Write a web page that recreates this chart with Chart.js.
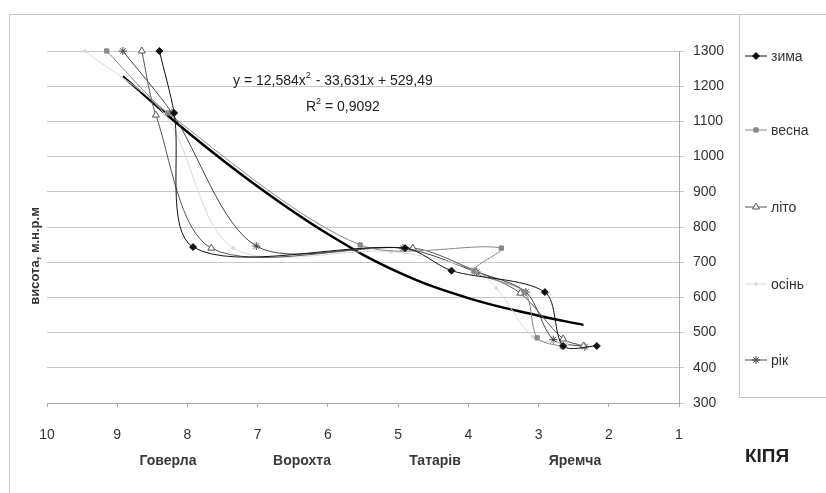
<!DOCTYPE html>
<html>
<head>
<meta charset="utf-8">
<script src="https://cdn.jsdelivr.net/npm/chart.js@4/dist/chart.umd.min.js"></script>
<style>
  html, body { margin: 0; padding: 0; background: #fff; }
  #wrap { position: relative; width: 826px; height: 493px; }
  .frame { position: absolute; border-color: #c8c8c8; border-style: solid; border-width: 0; }
</style>
</head>
<body>
<div id="wrap">
  <div class="frame" style="left:9px;top:14px;width:817px;height:479px;border-left-width:1px;border-top-width:1px;"></div>
  <div class="frame" style="left:739px;top:14px;width:87px;height:383px;border-left-width:1px;border-bottom-width:1px;"></div>
  <canvas id="chart"></canvas>
</div>
<script>
// значення з графіка: [x, висота]
const zyma  = [[8.40, 1300], [8.19, 1124], [7.92, 743], [4.90, 740], [4.24, 676], [2.91, 615], [2.65, 462], [2.17, 462]];
const vesna = [[9.15, 1300], [8.28, 1124], [5.54, 749], [3.53, 740], [3.92, 675], [3.20, 615], [3.02, 485], [2.66, 460]];
const lito  = [[8.65, 1300], [8.45, 1118], [7.66, 740], [4.79, 740], [3.90, 675], [3.26, 612], [2.65, 482], [2.36, 462]];
const osin  = [[9.46, 1300], [8.32, 1120], [7.35, 740], [5.10, 730], [3.95, 682], [3.60, 627], [3.08, 488], [2.60, 468]];
const rik   = [[8.92, 1300], [8.22, 1124], [7.02, 746], [4.93, 740], [3.88, 672], [3.18, 615], [2.79, 480], [2.34, 460]];
const trend = [[8.92, 1228], [8, 1070], [7, 915], [6, 780], [5, 672], [4, 598], [3, 548], [2.36, 522]];

const xTicks = [10, 9, 8, 7, 6, 5, 4, 3, 2, 1];
const yTicks = [300, 400, 500, 600, 700, 800, 900, 1000, 1100, 1200, 1300];
const stations = ['Говерла', 'Ворохта', 'Татарів', 'Яремча'];
const seriesNames = ['зима', 'весна', 'літо', 'осінь', 'рік'];

const FONT = '"Liberation Sans", Arial, sans-serif';

function pts(arr) { return arr.map(p => ({ x: p[0], y: p[1] })); }

const styles = [
  { color: '#111', style: 'rectRot', r: 3.5, bg: '#111' },
  { color: '#888', style: 'rect', r: 3, bg: '#888' },
  { color: '#555', style: 'triangle', r: 4, bg: '#fff' },
  { color: '#dadada', style: 'circle', r: 1.5, bg: '#dadada' },
  { color: '#444', style: 'star', r: 4, bg: '#444' }
];
const series = [zyma, vesna, lito, osin, rik];

const datasets = series.map((s, i) => ({
  label: seriesNames[i],
  data: pts(s),
  showLine: true,
  tension: 0.3,
  clip: false,
  borderColor: styles[i].color,
  borderWidth: 1,
  pointStyle: styles[i].style,
  pointRadius: styles[i].r,
  pointBackgroundColor: styles[i].bg,
  pointBorderColor: styles[i].color,
  pointBorderWidth: 1
}));
datasets.push({
  label: 'тренд',
  data: pts(trend),
  showLine: true,
  tension: 0.4,
  borderColor: '#000',
  borderWidth: 2.5,
  pointRadius: 0
});

const extras = {
  id: 'extras',
  afterDraw(chart) {
    const ctx = chart.ctx;
    ctx.save();
    // легенда
    const ly = [56, 130, 207, 284, 360];
    for (let i = 0; i < 5; i++) {
      const st = styles[i];
      ctx.strokeStyle = st.color;
      ctx.lineWidth = 1;
      ctx.beginPath();
      ctx.moveTo(745, ly[i]);
      ctx.lineTo(767, ly[i]);
      ctx.stroke();
      ctx.fillStyle = st.bg;
      Chart.helpers.drawPoint(ctx, { pointStyle: st.style, radius: st.r, rotation: 0, borderWidth: 1 }, 756, ly[i]);
      ctx.fillStyle = '#333';
      ctx.font = '14px ' + FONT;
      ctx.textAlign = 'left';
      ctx.textBaseline = 'middle';
      ctx.fillText(seriesNames[i], 771, ly[i] + 1);
    }
    // рівняння тренду
    ctx.fillStyle = '#222';
    ctx.font = '14px ' + FONT;
    ctx.textBaseline = 'alphabetic';
    let x = 233;
    const base = 85;
    const parts1 = 'y = 12,584x';
    ctx.fillText(parts1, x, base);
    x += ctx.measureText(parts1).width;
    ctx.font = '9px ' + FONT;
    ctx.fillText('2', x, base - 7);
    x += ctx.measureText('2').width + 1;
    ctx.font = '14px ' + FONT;
    ctx.fillText(' - 33,631x + 529,49', x, base);
    x = 306;
    ctx.fillText('R', x, 111);
    x += ctx.measureText('R').width;
    ctx.font = '9px ' + FONT;
    ctx.fillText('2', x, 104);
    x += ctx.measureText('2').width;
    ctx.font = '14px ' + FONT;
    ctx.fillText(' = 0,9092', x, 111);
    // станції
    ctx.font = 'bold 14px ' + FONT;
    ctx.fillStyle = '#3a3a3a';
    ctx.textAlign = 'center';
    ctx.textBaseline = 'middle';
    const sx = [168, 302, 435, 575];
    stations.forEach((s, i) => ctx.fillText(s, sx[i], 461));
    ctx.font = 'bold 19px ' + FONT;
    ctx.fillStyle = '#222';
    ctx.fillText('КІПЯ', 767, 457);
    // назва осі
    ctx.translate(35, 256);
    ctx.rotate(-Math.PI / 2);
    ctx.font = 'bold 13px ' + FONT;
    ctx.fillStyle = '#333';
    ctx.fillText('висота, м.н.р.м', 0, 0);
    ctx.restore();
  }
};

new Chart(document.getElementById('chart'), {
  type: 'scatter',
  data: { datasets: datasets },
  options: {
    responsive: true,
    maintainAspectRatio: false,
    animation: false,
    layout: { padding: { left: 47, top: 51, right: 0, bottom: 0 } },
    plugins: { legend: { display: false }, tooltip: { enabled: false } },
    scales: {
      x: {
        type: 'linear',
        reverse: true,
        min: 1,
        max: 10,
        afterBuildTicks(s) { s.ticks = xTicks.map(v => ({ value: v })); },
        afterFit(s) { s.height = 90; },
        grid: { drawOnChartArea: false, drawTicks: true, tickLength: 4, color: '#aaa' },
        border: { color: '#aaa' },
        ticks: { padding: 20, color: '#333', font: { family: FONT, size: 14 }, callback: v => String(v) }
      },
      y: {
        position: 'right',
        min: 300,
        max: 1300,
        afterBuildTicks(s) { s.ticks = yTicks.map(v => ({ value: v })); },
        afterFit(s) { s.width = 147; },
        grid: { color: '#c8c8c8', tickLength: 5 },
        border: { color: '#aaa' },
        ticks: { padding: 9, color: '#333', font: { family: FONT, size: 14 }, callback: v => String(v) }
      }
    }
  },
  plugins: [extras]
});
</script>
</body>
</html>
